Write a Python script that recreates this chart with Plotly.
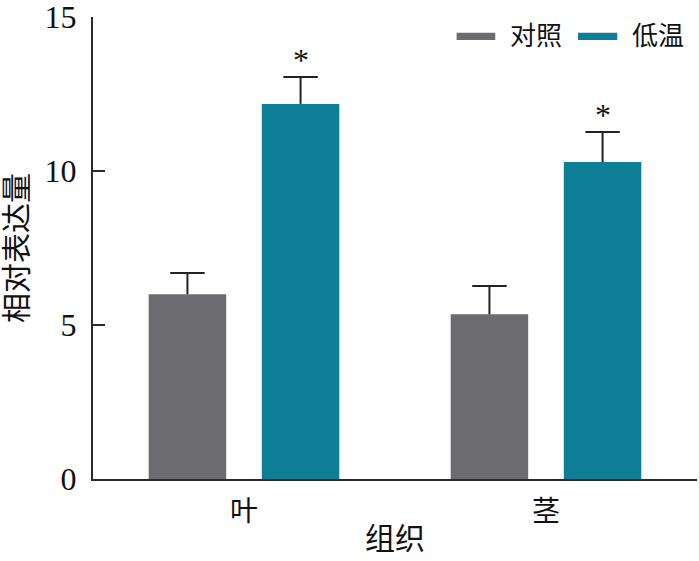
import plotly.graph_objects as go

# ---- data ----
categories = ["叶", "茎"]
series_names = ["对照", "低温"]
control_values = [6.0, 5.35]
control_errors = [0.69, 0.92]
cold_values = [12.18, 10.29]
cold_errors = [0.87, 0.98]
cold_marks = ["*", "*"]
y_ticks = [0, 5, 10, 15]
x_title = "组织"
y_title = "相对表达量"

# ---- style ----
colors = ["#6b6b70", "#0e7e96"]
FONT = "Liberation Serif, Noto Sans CJK SC"
AXIS_COLOR = "#2b2b2b"
SLOT_OFFSET = 0.1873
BAR_WIDTH = 0.2566
CAP_HALF = 0.057

idx = list(range(len(categories)))
fig = go.Figure()
all_vals = [control_values, cold_values]
all_errs = [control_errors, cold_errors]
for k, (name, vals, errs, color) in enumerate(zip(series_names, all_vals, all_errs, colors)):
    off = (-1 if k == 0 else 1) * SLOT_OFFSET
    xs = [i + off for i in idx]
    fig.add_trace(go.Bar(x=xs, y=vals, width=BAR_WIDTH, name=name,
                         marker=dict(color=color, line=dict(width=0)),
                         showlegend=False))
    ex, ey = [], []
    for x, v, e in zip(xs, vals, errs):
        ex += [x, x, None, x - CAP_HALF, x + CAP_HALF, None]
        ey += [v, v + e, None, v + e, v + e, None]
    fig.add_trace(go.Scatter(x=ex, y=ey, mode="lines",
                             line=dict(color="#222222", width=2),
                             showlegend=False, hoverinfo="skip"))
    if k == 1:
        for x, v, e, m in zip(xs, vals, errs, cold_marks):
            fig.add_annotation(x=x, y=v + e, text=m, showarrow=False,
                               yanchor="bottom", yshift=-3,
                               font=dict(family=FONT, size=32, color="#111"))

# ---- custom legend ----
leg_boxes = [(0.602, 0.666), (0.803, 0.868)]
leg_text_x = [0.687, 0.889]
for (x0, x1), tx, name, color in zip(leg_boxes, leg_text_x, series_names, colors):
    fig.add_shape(type="rect", xref="paper", yref="paper", x0=x0, x1=x1,
                  y0=0.950, y1=0.966, fillcolor=color, line=dict(width=0))
    fig.add_annotation(xref="paper", yref="paper", x=tx, y=0.958, text=name,
                       showarrow=False, xanchor="left", yanchor="middle",
                       font=dict(family=FONT, size=26, color="#111"))

fig.update_layout(
    width=699, height=561,
    margin=dict(l=93, r=2, t=17, b=82),
    plot_bgcolor="white", paper_bgcolor="white",
    font=dict(family=FONT, size=30, color="#111"),
    xaxis=dict(range=[-0.5, 1.5], tickvals=idx, ticktext=categories,
               showline=True, linecolor=AXIS_COLOR, linewidth=2,
               ticks="", showgrid=False, zeroline=False, automargin=False,
               ticklabelstandoff=6,
               tickfont=dict(family=FONT, size=28, color="#111"),
               title=dict(text=x_title, standoff=2,
                          font=dict(family=FONT, size=30, color="#111"))),
    yaxis=dict(range=[0, 15.001], tickvals=y_ticks,
               showline=True, linecolor=AXIS_COLOR, linewidth=2,
               ticks="inside", ticklen=12, tickwidth=2, tickcolor=AXIS_COLOR,
               showgrid=False, zeroline=False, ticklabelstandoff=8,
               ticklabeloverflow="allow", automargin=False,
               tickfont=dict(family=FONT, size=32, color="#111"),
               title=dict(text=y_title, standoff=14,
                          font=dict(family=FONT, size=30, color="#111"))),
)

fig.write_html("out.html", config={"displayModeBar": False},
               post_script="document.body.style.margin='0px';document.body.style.overflow='hidden';")
